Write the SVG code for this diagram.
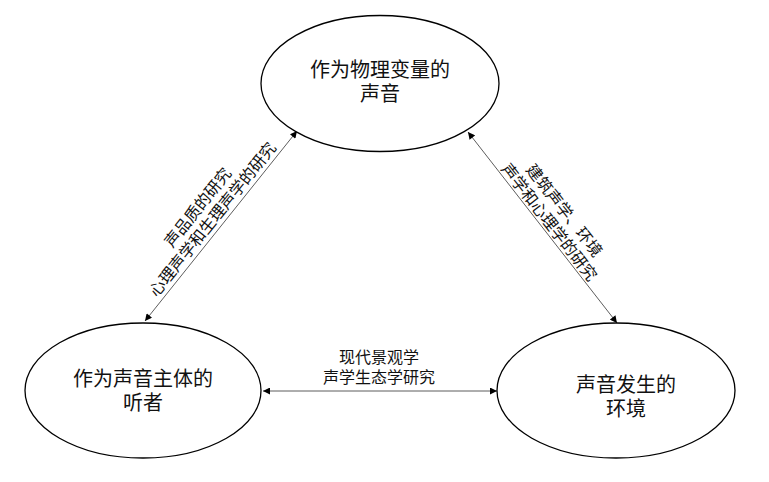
<svg xmlns="http://www.w3.org/2000/svg" width="769" height="482" viewBox="0 0 769 482">
<style>
.node{fill:#fff;stroke:#000;stroke-width:1.3}
.nt{font-family:"Liberation Sans","Noto Sans CJK SC",sans-serif;font-size:20px;fill:#111;text-anchor:middle}
.lt{font-family:"Liberation Sans","Noto Sans CJK SC",sans-serif;font-size:16px;fill:#111;text-anchor:middle}
.conn{stroke:#333;stroke-width:0.8;fill:none;marker-start:url(#ah);marker-end:url(#ah)}
</style>
<defs>
<marker id="ah" viewBox="0 0 10 10" refX="10" refY="5" markerWidth="9" markerHeight="7" markerUnits="userSpaceOnUse" orient="auto-start-reverse">
<path d="M0,0 L10,5 L0,10 Z" fill="#000"/>
</marker>
</defs>
<rect width="769" height="482" fill="#fff"/>
<g id="connectors">
<line class="conn" x1="145" y1="321" x2="297" y2="131"/>
<line class="conn" x1="468" y1="132" x2="617" y2="323"/>
<line class="conn" x1="263" y1="391" x2="497" y2="391"/>
</g>
<g id="labels">
<g transform="translate(221,226) rotate(-51.3)">
<text class="lt"><tspan x="0" y="-24">声品质的研究</tspan><tspan x="0" y="-5">心理声学和生理声学的研究</tspan></text>
</g>
<g transform="translate(542.5,227.5) rotate(52)">
<text class="lt"><tspan x="0" y="-22">建筑声学、环境</tspan><tspan x="0" y="-3">声学和心理学的研究</tspan></text>
</g>
<text class="lt"><tspan x="379" y="363">现代景观学</tspan><tspan x="379" y="383">声学生态学研究</tspan></text>
</g>
<g id="node-sound">
<ellipse class="node" cx="380" cy="83.5" rx="119" ry="68"/>
<text class="nt"><tspan x="380" y="77">作为物理变量的</tspan><tspan x="380" y="101">声音</tspan></text>
</g>
<g id="node-listener">
<ellipse class="node" cx="143" cy="390.5" rx="118" ry="67.5"/>
<text class="nt"><tspan x="143" y="386">作为声音主体的</tspan><tspan x="143" y="410">听者</tspan></text>
</g>
<g id="node-environment">
<ellipse class="node" cx="616" cy="390.5" rx="119" ry="67.5"/>
<text class="nt"><tspan x="626" y="392">声音发生的</tspan><tspan x="626" y="416">环境</tspan></text>
</g>
</svg>
